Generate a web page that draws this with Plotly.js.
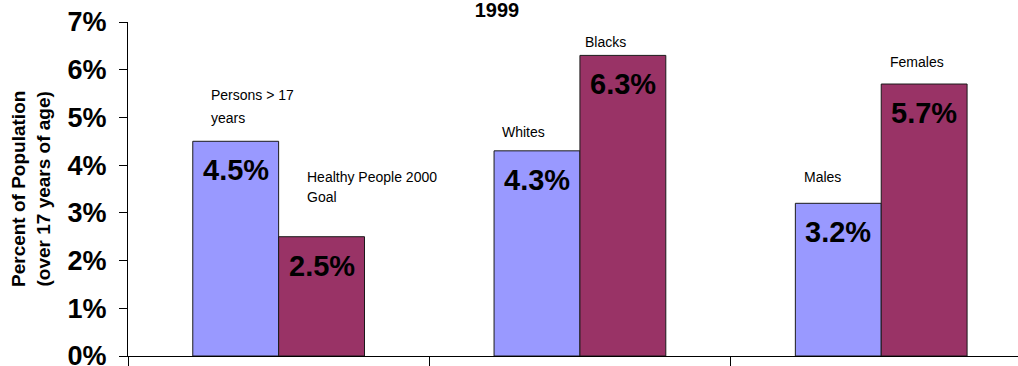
<!DOCTYPE html>
<html>
<head>
<meta charset="utf-8">
<script src="https://cdn.plot.ly/plotly-3.0.1.min.js"></script>
<style>html,body{margin:0;padding:0;background:#fff;}#chart{width:1018px;height:366px;}</style>
</head>
<body>
<div id="chart"></div>
<script>
// Data
const groups = [1, 2, 3];
const firstValues = [4.5, 4.3, 3.2];   // Persons > 17 years, Whites, Males
const secondValues = [2.5, 6.3, 5.7];  // Healthy People 2000 Goal, Blacks, Females
const firstLabels = [["Persons > 17", "years"], ["Whites"], ["Males"]];
const secondLabels = [["Healthy People 2000", "Goal"], ["Blacks"], ["Females"]];
const yTickVals = [0, 1, 2, 3, 4, 5, 6, 7];
const yTickText = ["0%", "1%", "2%", "3%", "4%", "5%", "6%", "7%"];
const chartTitle = "1999";
const yTitle = "Percent of Population<br>(over 17 years of age)";

const BW = 0.285;
const blue = "#9999FF", maroon = "#993366";
const FONT = "Liberation Sans, Arial, sans-serif";

const traces = [
  {type: "bar", x: groups, y: firstValues, width: BW, offset: -BW,
   marker: {color: blue, line: {color: "#1a1a1a", width: 1}}, hoverinfo: "skip"},
  {type: "bar", x: groups, y: secondValues, width: BW, offset: 0,
   marker: {color: maroon, line: {color: "#1a1a1a", width: 1}}, hoverinfo: "skip"}
];

const annotations = [];
// value labels inside bars
firstValues.forEach((v, i) => annotations.push({
  x: groups[i] - BW / 2, y: v, xref: "x", yref: "y", text: v.toFixed(1) + "%",
  showarrow: false, yanchor: "middle", yshift: -29,
  font: {family: FONT, size: 29, color: "#000", weight: "bold"}
}));
secondValues.forEach((v, i) => annotations.push({
  x: groups[i] + BW / 2, y: v, xref: "x", yref: "y", text: v.toFixed(1) + "%",
  showarrow: false, yanchor: "middle", yshift: -29,
  font: {family: FONT, size: 29, color: "#000", weight: "bold"}
}));
// category labels (left x, line centers y)
const labelPos = [
  {lines: firstLabels[0], x: 0.770, y: [5.47, 4.99]},
  {lines: secondLabels[0], x: 1.087, y: [3.75, 3.33]},
  {lines: firstLabels[1], x: 1.735, y: [4.69]},
  {lines: secondLabels[1], x: 2.010, y: [6.58]},
  {lines: firstLabels[2], x: 2.738, y: [3.75]},
  {lines: secondLabels[2], x: 3.022, y: [6.16]}
];
labelPos.forEach(p => p.lines.forEach((t, j) => annotations.push({
  x: p.x, y: p.y[j], xref: "x", yref: "y", text: t, showarrow: false,
  xanchor: "left", yanchor: "middle",
  font: {family: FONT, size: 14, color: "#000"}
})));
// y axis title
annotations.push({
  x: 0, y: 0.5, xref: "paper", yref: "paper", xanchor: "center", yanchor: "middle",
  xshift: -97, text: yTitle, textangle: -90, showarrow: false,
  font: {family: FONT, size: 19, color: "#000", weight: "bold"}
});

const layout = {
  width: 1018, height: 366,
  margin: {l: 128, r: 0, t: 22, b: 10, pad: 0},
  paper_bgcolor: "#fff", plot_bgcolor: "#fff",
  showlegend: false,
  title: {text: chartTitle, x: 497 / 1018, xanchor: "center", y: 1, yanchor: "top",
          pad: {t: 3, b: 0},
          font: {family: FONT, size: 20, color: "#000", weight: "bold"}},
  xaxis: {range: [0.5, 3.454], tickvals: [0.5, 1.5, 2.5, 3.5], ticktext: ["", "", "", ""],
          ticks: "outside", ticklen: 10, tickcolor: "#000", tickwidth: 1,
          showline: true, linecolor: "#000", linewidth: 1, showgrid: false, zeroline: false,
          fixedrange: true},
  yaxis: {range: [0, 7], tickvals: yTickVals, ticktext: yTickText,
          ticks: "outside", ticklen: 8, tickcolor: "#000", tickwidth: 1, ticklabelstandoff: 7,
          ticklabeloverflow: "allow",
          showline: true, linecolor: "#000", linewidth: 1, showgrid: false, zeroline: false,
          tickfont: {family: FONT, size: 27, color: "#000", weight: "bold"},
          fixedrange: true},
  annotations: annotations
};

Plotly.newPlot("chart", traces, layout, {staticPlot: true, displayModeBar: false});
</script>
</body>
</html>
